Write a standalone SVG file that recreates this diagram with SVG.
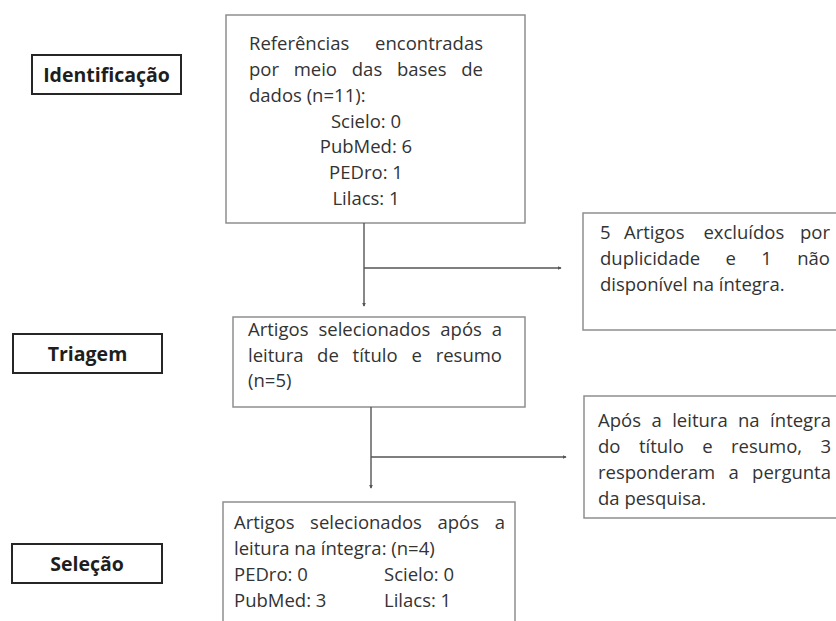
<svg xmlns="http://www.w3.org/2000/svg" width="836" height="621" viewBox="0 0 836 621">
<style>
.lbl{fill:#fff;stroke:#262626;stroke-width:2}
.box{fill:#fff;stroke:#8e8e8e;stroke-width:1.5}
.lt{font-family:"Open Sans","Noto Sans",sans-serif;font-weight:bold;font-size:19.5px;fill:#1e1e1e;text-anchor:middle}
.t{font-family:"Open Sans","Noto Sans",sans-serif;font-size:18.5px;fill:#333}
.e{text-anchor:end}
.m{text-anchor:middle}
.c{fill:none;stroke:#555;stroke-width:1.4}
</style>
<defs>
<marker id="ah" viewBox="0 0 6 6" refX="5" refY="3" markerWidth="4" markerHeight="4" markerUnits="userSpaceOnUse" orient="auto">
<path d="M0,0 L6,3 L0,6 Z" fill="#555"/>
</marker>
</defs>
<g id="identificacao">
<rect class="lbl" x="32" y="55" width="149" height="39"/>
<text class="lt" x="106.5" y="82">Identificação</text>
</g>
<g id="triagem">
<rect class="lbl" x="13" y="334" width="149" height="39"/>
<text class="lt" x="87.5" y="361">Triagem</text>
</g>
<g id="selecao">
<rect class="lbl" x="12" y="544" width="150" height="39"/>
<text class="lt" x="87" y="571">Seleção</text>
</g>
<g id="referencias">
<rect class="box" x="226" y="15" width="299" height="208"/>
<text class="t" x="249" y="50">Referências</text>
<text class="t e" x="483" y="50">encontradas</text>
<text class="t" x="249" y="76">por</text>
<text class="t" x="293.7" y="76">meio</text>
<text class="t" x="351.8" y="76">das</text>
<text class="t" x="396.9" y="76">bases</text>
<text class="t e" x="483" y="76">de</text>
<text class="t" x="249" y="102">dados (n=11):</text>
<text class="t m" x="366" y="128">Scielo: 0</text>
<text class="t m" x="366" y="153">PubMed: 6</text>
<text class="t m" x="366" y="179">PEDro: 1</text>
<text class="t m" x="366" y="205">Lilacs: 1</text>
</g>
<g id="excluidos">
<rect class="box" x="583" y="213" width="260" height="117"/>
<text class="t" x="600" y="239">5</text>
<text class="t" x="624" y="239">Artigos</text>
<text class="t" x="703.4" y="239">excluídos</text>
<text class="t e" x="830" y="239">por</text>
<text class="t" x="600" y="265">duplicidade</text>
<text class="t" x="725.5" y="265">e</text>
<text class="t" x="761.2" y="265">1</text>
<text class="t e" x="830" y="265">não</text>
<text class="t" x="600" y="291">disponível na íntegra.</text>
</g>
<g id="triados">
<rect class="box" x="233" y="317" width="292" height="90"/>
<text class="t" x="248" y="336">Artigos</text>
<text class="t" x="318.5" y="336">selecionados</text>
<text class="t" x="440.3" y="336">após</text>
<text class="t e" x="502" y="336">a</text>
<text class="t" x="248" y="362">leitura</text>
<text class="t" x="317.1" y="362">de</text>
<text class="t" x="352.6" y="362">título</text>
<text class="t" x="411.4" y="362">e</text>
<text class="t e" x="502" y="362">resumo</text>
<text class="t" x="248" y="387">(n=5)</text>
</g>
<g id="leitura-integra">
<rect class="box" x="584" y="396" width="260" height="122"/>
<text class="t" x="598" y="427">Após</text>
<text class="t" x="651.5" y="427">a</text>
<text class="t" x="672.2" y="427">leitura</text>
<text class="t" x="738" y="427">na</text>
<text class="t e" x="831" y="427">íntegra</text>
<text class="t" x="598" y="453">do</text>
<text class="t" x="638.9" y="453">título</text>
<text class="t" x="702.2" y="453">e</text>
<text class="t" x="731" y="453">resumo,</text>
<text class="t e" x="831" y="453">3</text>
<text class="t" x="598" y="479">responderam</text>
<text class="t" x="728.6" y="479">a</text>
<text class="t e" x="831" y="479">pergunta</text>
<text class="t" x="598" y="505">da pesquisa.</text>
</g>
<g id="selecionados">
<rect class="box" x="223" y="502" width="292" height="130"/>
<text class="t" x="234" y="529">Artigos</text>
<text class="t" x="310.1" y="529">selecionados</text>
<text class="t" x="437.5" y="529">após</text>
<text class="t e" x="505" y="529">a</text>
<text class="t" x="234" y="555">leitura na íntegra: (n=4)</text>
<text class="t" x="234" y="581">PEDro: 0</text>
<text class="t" x="384" y="581">Scielo: 0</text>
<text class="t" x="234" y="607">PubMed: 3</text>
<text class="t" x="384" y="607">Lilacs: 1</text>
</g>
<g id="connectors">
<path class="c" d="M364,223 V306" marker-end="url(#ah)"/>
<path class="c" d="M364,268 H561" marker-end="url(#ah)"/>
<path class="c" d="M371,407 V488" marker-end="url(#ah)"/>
<path class="c" d="M371,457 H566" marker-end="url(#ah)"/>
</g>
</svg>
